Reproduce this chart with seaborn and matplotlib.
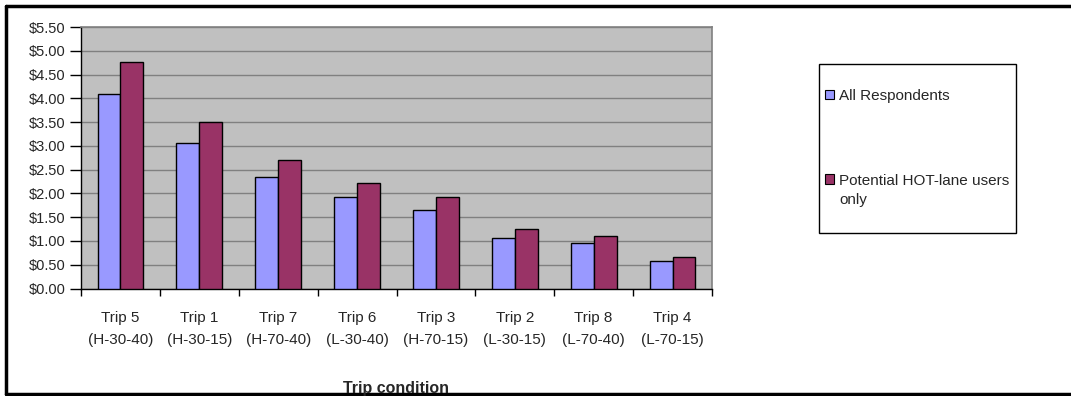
import matplotlib
matplotlib.use("Agg")
import matplotlib.pyplot as plt
from matplotlib.lines import Line2D
from matplotlib.patches import Patch, Rectangle
from matplotlib.legend_handler import HandlerPatch
from matplotlib.ticker import FixedLocator, FuncFormatter
import numpy as np
import pandas as pd
import seaborn as sns

# Willingness to pay by trip condition
trips = ["Trip 5\n(H-30-40)", "Trip 1\n(H-30-15)", "Trip 7\n(H-70-40)", "Trip 6\n(L-30-40)",
         "Trip 3\n(H-70-15)", "Trip 2\n(L-30-15)", "Trip 8\n(L-70-40)", "Trip 4\n(L-70-15)"]
all_respondents = [4.10, 3.05, 2.34, 1.93, 1.65, 1.07, 0.96, 0.57]
hot_lane_users = [4.77, 3.51, 2.70, 2.22, 1.92, 1.25, 1.11, 0.66]
series_names = ["All Respondents", "Potential HOT-lane users\nonly"]
y_ticks = [0.0, 0.5, 1.0, 1.5, 2.0, 2.5, 3.0, 3.5, 4.0, 4.5, 5.0, 5.5]

df = pd.DataFrame({
    "trip": trips * 2,
    "value": all_respondents + hot_lane_users,
    "group": [series_names[0]] * len(trips) + [series_names[1]] * len(trips),
})

sns.set_theme(style="white")
plt.rcParams["font.family"] = ["Liberation Sans", "DejaVu Sans"]

colors = ["#9999FF", "#993366"]
W, H = 1071, 396
fig = plt.figure(figsize=(W / 100, H / 100), dpi=100)
ax = fig.add_axes([81 / W, 1 - 288.5 / H, (712 - 81) / W, (288.5 - 27) / H])

sns.barplot(data=df, x="trip", y="value", hue="group", palette=colors,
            width=0.58, gap=0, edgecolor="black", linewidth=1.0,
            saturation=1, legend=False, ax=ax, zorder=3)

ax.set_facecolor("#C0C0C0")
ax.set_ylim(0, 5.5)
ax.set_xlim(-0.5, len(trips) - 0.5)
ax.yaxis.set_major_locator(FixedLocator(y_ticks))
ax.yaxis.set_major_formatter(FuncFormatter(lambda v, p: f"${v:.2f}"))
ax.grid(axis="y", color="#808080", linewidth=1.0, zorder=0)
ax.set_axisbelow(True)

# tick marks sit between categories, labels at the centres
ax.set_xticks(np.arange(-0.5, len(trips) + 0.5, 1.0))
ax.set_xticklabels([])
ax.set_xticks(np.arange(len(trips)), minor=True)
ax.set_xticklabels(trips, minor=True, fontsize=11, linespacing=1.75)
ax.tick_params(axis="x", which="major", direction="out", length=5, width=1, color="black", bottom=True)
ax.tick_params(axis="x", which="minor", length=0, pad=16)
ax.tick_params(axis="y", direction="out", length=8, width=1, color="black", left=True,
               labelsize=10.5, pad=3)
ax.set_xlabel("")
ax.set_ylabel("")

for side in ["top", "right"]:
    ax.spines[side].set_color("#808080")
    ax.spines[side].set_linewidth(1.2)
for side in ["left", "bottom"]:
    ax.spines[side].set_color("black")
    ax.spines[side].set_linewidth(1.0)

fig.text(396 / W, 1 - 393.5 / H, "Trip condition", ha="center", va="baseline",
         fontsize=11.5, fontweight="bold")


class TopLinePatch(HandlerPatch):
    """Legend swatch that sits level with the first line of a wrapped label."""

    def __init__(self, lift=0.0, **kw):
        super().__init__(**kw)
        self.lift = lift

    def create_artists(self, legend, orig_handle, xdescent, ydescent, width, height,
                       fontsize, trans):
        r = Rectangle((-xdescent, -ydescent + self.lift), width, height,
                      facecolor=orig_handle.get_facecolor(), edgecolor="black",
                      linewidth=0.8, transform=trans)
        return [r]


# legend frame and entries
fig.add_artist(Rectangle((819 / W, 1 - 233 / H), (1016 - 819) / W, (233 - 64) / H,
                         transform=fig.transFigure, facecolor="white", edgecolor="black",
                         linewidth=1.0, zorder=4))
handles = [Patch(facecolor=c) for c in colors]
leg = fig.legend(handles, series_names, loc="upper left",
                 bbox_to_anchor=(825 / W, 1 - 89 / H),
                 frameon=False, fontsize=11,
                 handlelength=0.6, handleheight=0.6, handletextpad=0.33,
                 labelspacing=4.65, borderpad=0, borderaxespad=0,
                 handler_map={handles[0]: TopLinePatch(0.0), handles[1]: TopLinePatch(8.5)})
leg.set_zorder(5)
for t in leg.get_texts():
    t.set_linespacing(1.45)

# outer frame
for y in (6, 394):
    fig.add_artist(Line2D([6 / W, 1.0], [1 - y / H] * 2, color="black", linewidth=2.5))
fig.add_artist(Line2D([6 / W] * 2, [1 - 6 / H, 1 - 394 / H], color="black", linewidth=2.5))

fig.savefig("out.png", dpi=100)
